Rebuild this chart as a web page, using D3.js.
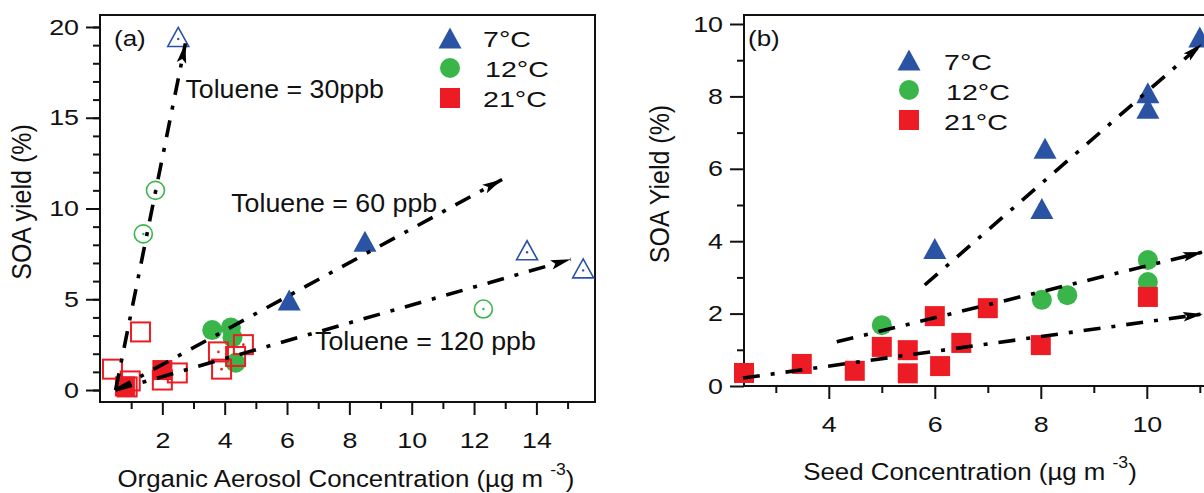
<!DOCTYPE html>
<html><head><meta charset="utf-8">
<script src="https://cdn.jsdelivr.net/npm/d3@7"></script>
<style>
body{margin:0;background:#fff;}
svg text{font-family:"Liberation Sans",Arial,sans-serif;fill:#111;}
</style></head>
<body><svg id="c" width="1204" height="493"></svg>
<script>
// ---------- Panel (a) data: Organic aerosol conc. vs SOA yield ----------
const a7Filled   = [[6.07,4.96],[8.5,8.2]];
const a7Open     = [[2.51,19.45],[13.7,7.7],[15.5,6.7]];
const a12Filled  = [[3.6,3.3],[4.2,3.45],[4.25,2.9],[4.35,1.5]];
const a12Open    = [[1.78,11.0],[1.39,8.6],[12.3,4.46]];
const a21Filled  = [[0.8,0.2],[2.0,1.1]];
const a21Open    = [[0.4,1.15],[1.3,3.2],[0.87,0.17],[2.0,0.55],[2.48,0.94],[4.35,1.85]];
const a21OpenDot = [[0.97,0.5],[3.8,2.1],[3.9,1.15],[4.6,2.5]];
const aArrows = [
  {label:"Toluene = 30ppb",  from:[0.5,0.0], to:[2.74,19.1], at:[2.74,16.09]},
  {label:"Toluene = 60 ppb", from:[0.5,0.0], to:[12.9,11.6], at:[4.21,9.81]},
  {label:"Toluene = 120 ppb",from:[0.5,0.0], to:[15.1,7.2],  at:[6.9,2.2]}
];
const aXTicks = [2,4,6,8,10,12,14], aXMinor = [1,3,5,7,9,11,13,15];
const aYTicks = [0,5,10,15,20], aYMinor = d3.range(0,21);

// ---------- Panel (b) data: Seed conc. vs SOA yield ----------
const b7  = [[6.0,3.8],[8.02,4.9],[8.08,6.57],[10.02,7.67],[10.02,8.1],[11.0,9.64]];
const b12 = [[5.0,1.68],[8.02,2.38],[8.5,2.51],[10.02,2.87],[10.02,3.48]];
const b21 = [[2.4,0.36],[3.49,0.61],[4.49,0.42],[5.0,1.08],[5.49,0.99],[5.49,0.35],
             [6.0,1.93],[6.1,0.55],[6.5,1.19],[7.0,2.15],[8.0,1.13],[10.02,2.46]];
const bArrows = [
  {from:[5.81,2.79], to:[11.04,9.45]},
  {from:[4.15,1.22], to:[11.06,3.70]},
  {from:[2.38,0.22], to:[11.06,1.99]}
];
const bXTicks = [4,6,8,10], bXMinor = [3,5,7,9,11];
const bYTicks = [0,2,4,6,8,10], bYMinor = [1,3,5,7,9];

const legendLabels = ["7°C","12°C","21°C"];

const BLUE="#2b53a3", GREEN="#3ab54a", RED="#ed1c24";
const svg = d3.select("#c");

const defs = svg.append("defs");
defs.append("marker").attr("id","ah").attr("markerUnits","userSpaceOnUse")
  .attr("viewBox","0 -6 22 12").attr("refX",20).attr("refY",0)
  .attr("markerWidth",22).attr("markerHeight",12).attr("orient","auto")
  .append("path").attr("d","M0,-4.8 L20,0 L0,4.8 L4,0 Z").attr("fill","#000");

const triPath = (w,h)=>`M0,${-h/2} L${w/2},${h/2} L${-w/2},${h/2} Z`;

// text with horizontal stretch (the reference glyphs are wider than Arial)
function txt(g, x, y, size, sx, anchor){
  return g.append("text").attr("transform",`translate(${x},${y}) scale(${sx},1)`)
    .attr("text-anchor",anchor||"start").style("font-size",size+"px");
}

function axes(g, x, y, xt, xm, yt, ym, w, h, x0, y0){
  const ax = g.append("g").attr("transform",`translate(0,${y0+h})`);
  ax.call(d3.axisBottom(x).tickValues(xm).tickSize(7).tickFormat("").tickSizeOuter(0));
  const axM = g.append("g").attr("transform",`translate(0,${y0+h})`);
  axM.call(d3.axisBottom(x).tickValues(xt).tickSize(13).tickPadding(17).tickSizeOuter(0));
  axM.selectAll(".tick text").attr("transform",function(){return `translate(0,${d3.select(this).attr("y")}) scale(1.22,1)`;}).attr("y",0);
  const ay = g.append("g").attr("transform",`translate(${x0},0)`);
  ay.call(d3.axisLeft(y).tickValues(ym).tickSize(7).tickFormat("").tickSizeOuter(0));
  const ayM = g.append("g").attr("transform",`translate(${x0},0)`);
  ayM.call(d3.axisLeft(y).tickValues(yt).tickSize(14).tickPadding(7).tickSizeOuter(0));
  ayM.selectAll(".tick text").attr("transform",function(){return `translate(${d3.select(this).attr("x")},0) scale(1.22,1)`;}).attr("x",0);
  g.selectAll(".domain").remove();
  g.selectAll(".tick line").attr("stroke","#111").attr("stroke-width",2);
  g.selectAll(".tick text").style("font-size","22px").attr("fill","#111");
  g.append("rect").attr("x",x0).attr("y",y0).attr("width",w).attr("height",h)
    .attr("fill","none").attr("stroke","#111").attr("stroke-width",2);
}

function drawArrows(g, x, y, arr){
  g.selectAll(null).data(arr).join("line")
    .attr("x1",d=>x(d.from[0])).attr("y1",d=>y(d.from[1]))
    .attr("x2",d=>x(d.to[0])).attr("y2",d=>y(d.to[1]))
    .attr("stroke","#000").attr("stroke-width",3.6)
    .attr("stroke-dasharray","17,11,4,11").attr("marker-end","url(#ah)");
}

function legend(g, lx, ly, tx, ty, gap){
  g.append("path").attr("d",triPath(23,21)).attr("transform",`translate(${lx},${ly})`).attr("fill",BLUE);
  g.append("circle").attr("cx",lx).attr("cy",ly+gap).attr("r",10).attr("fill",GREEN);
  g.append("rect").attr("x",lx-10).attr("y",ly+2*gap-10).attr("width",20).attr("height",20).attr("fill",RED);
  legendLabels.forEach((t,i)=>{
    txt(g, tx+(i===1?2:0), ty+i*gap, 22, 1.3).text(t);
  });
}

function xTitle(g, cx, y, main){
  const t = txt(g, cx, y, 23.5, 1.1, "middle");
  t.append("tspan").text(main);
  t.append("tspan").attr("dy",-12).style("font-size","16px").text("-3");
  t.append("tspan").attr("dy",12).text(")");
}

// ================= Panel (a) =================
{
  const x0=100, y0=15, w=495, h=387;
  const x = d3.scaleLinear().domain([0,15.88]).range([x0,x0+w]);
  const y = d3.scaleLinear().domain([-0.66,20.66]).range([y0+h,y0]);
  const g = svg.append("g");
  axes(g,x,y,aXTicks,aXMinor,aYTicks,aYMinor,w,h,x0,y0);

  const m = g.append("g");
  m.selectAll(null).data(a12Filled).join("circle").attr("cx",d=>x(d[0])).attr("cy",d=>y(d[1])).attr("r",10).attr("fill",GREEN);
  m.selectAll(null).data(a21Filled).join("rect").attr("x",d=>x(d[0])-10).attr("y",d=>y(d[1])-10).attr("width",20).attr("height",20).attr("fill",RED);
  m.selectAll(null).data(a21Open.concat(a21OpenDot)).join("rect").attr("x",d=>x(d[0])-9.5).attr("y",d=>y(d[1])-9.5).attr("width",19).attr("height",19).attr("fill","none").attr("stroke",RED).attr("stroke-width",2);
  m.selectAll(null).data(a21OpenDot).join("circle").attr("cx",d=>x(d[0])).attr("cy",d=>y(d[1])).attr("r",1.3).attr("fill",RED);
  m.selectAll(null).data(a12Open).join("circle").attr("cx",d=>x(d[0])).attr("cy",d=>y(d[1])).attr("r",9).attr("fill","none").attr("stroke",GREEN).attr("stroke-width",1.6);
  m.selectAll(null).data(a12Open).join("circle").attr("cx",d=>x(d[0])).attr("cy",d=>y(d[1])).attr("r",1.2).attr("fill",GREEN);
  m.selectAll(null).data(a7Filled).join("path").attr("d",triPath(23,21)).attr("transform",d=>`translate(${x(d[0])},${y(d[1])})`).attr("fill",BLUE);
  m.selectAll(null).data(a7Open).join("path").attr("d",triPath(21,19)).attr("transform",d=>`translate(${x(d[0])},${y(d[1])})`).attr("fill","none").attr("stroke",BLUE).attr("stroke-width",1.6);
  m.selectAll(null).data(a7Open).join("circle").attr("cx",d=>x(d[0])).attr("cy",d=>y(d[1])+2).attr("r",1.2).attr("fill",BLUE);

  drawArrows(g,x,y,aArrows);
  aArrows.forEach(d=>{ txt(g, x(d.at[0]), y(d.at[1]), 25, 1.07).text(d.label); });

  txt(g,114,46,22,1.18).text("(a)");
  legend(g,450,38,483,47,30);

  g.append("text").attr("transform","translate(31,202) rotate(-90) scale(1,1.12)").attr("text-anchor","middle")
    .style("font-size","25px").text("SOA yield (%)");
  xTitle(g, 346, 487, "Organic Aerosol Concentration (µg m ");
}

// ================= Panel (b) =================
{
  const x0=744, y0=15, w=470, h=371;
  const x = d3.scaleLinear().domain([2.4,2.4+w/53]).range([x0,x0+w]);
  const y = d3.scaleLinear().domain([0,h/36.2]).range([y0+h,y0]);
  const g = svg.append("g");
  axes(g,x,y,bXTicks,bXMinor,bYTicks,bYMinor,w,h,x0,y0);

  const m = g.append("g");
  m.selectAll(null).data(b12).join("circle").attr("cx",d=>x(d[0])).attr("cy",d=>y(d[1])).attr("r",10).attr("fill",GREEN);
  m.selectAll(null).data(b21).join("rect").attr("x",d=>x(d[0])-10).attr("y",d=>y(d[1])-10).attr("width",20).attr("height",20).attr("fill",RED);
  m.selectAll(null).data(b7).join("path").attr("d",triPath(23,21)).attr("transform",d=>`translate(${x(d[0])},${y(d[1])})`).attr("fill",BLUE);

  drawArrows(g,x,y,bArrows);

  txt(g,748,46,22,1.18).text("(b)");
  legend(g,909,60,944,70,30);

  g.append("text").attr("transform","translate(669,184) rotate(-90) scale(1,1.12)").attr("text-anchor","middle")
    .style("font-size","25px").text("SOA Yield (%)");
  xTitle(g, 970, 480, "Seed Concentration (µg m ");
}
</script></body></html>
